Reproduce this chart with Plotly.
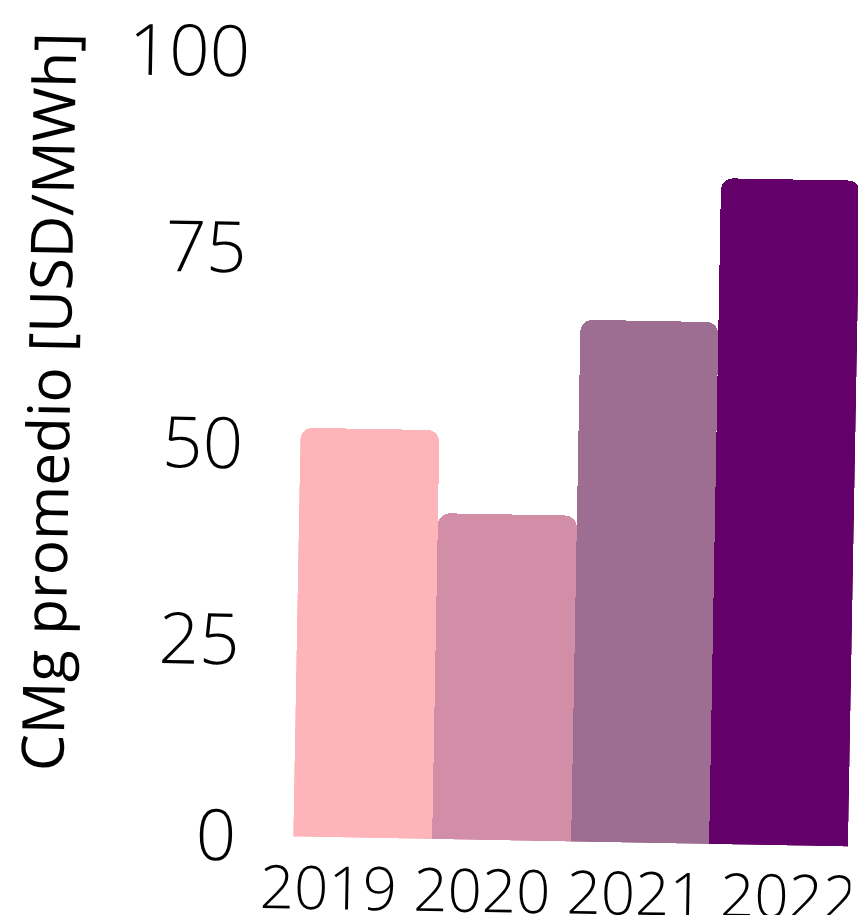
import plotly.graph_objects as go

# Data
years = ["2019", "2020", "2021", "2022"]
cmg_promedio = [52.2, 41.6, 66.6, 85.0]
bar_colors = ["#FDB5BA", "#D28EA7", "#9D6E91", "#630069"]
y_tick_values = [0, 25, 50, 75, 100]
y_title = "CMg promedio [USD/MWh]"

W, H = 858, 915
ML, MR, MT, MB = 300, 3, 55, 76

fig = go.Figure()
fig.add_trace(go.Bar(
    x=years, y=cmg_promedio,
    marker=dict(color=bar_colors, line=dict(width=0)),
    hoverinfo="skip", showlegend=False,
))
# invisible twin carrying the year labels on a second (overlaid) category axis
fig.add_trace(go.Bar(
    x=years, y=cmg_promedio, xaxis="x2",
    marker=dict(color="rgba(0,0,0,0)", line=dict(width=0)),
    hoverinfo="skip", showlegend=False,
))

tick_font = dict(family="Open Sans", size=71, color="#000000", weight=300)

fig.update_layout(
    width=W, height=H,
    margin=dict(l=ML, r=MR, t=MT, b=MB, autoexpand=False),
    paper_bgcolor="white", plot_bgcolor="white",
    bargap=0, barcornerradius=12,
    xaxis=dict(type="category", showticklabels=False, showgrid=False,
               zeroline=False, showline=False, ticks=""),
    xaxis2=dict(type="category", anchor="y", overlaying="x", side="bottom",
                range=[-0.2357, 3.382], showgrid=False, zeroline=False,
                showline=False, ticks="", tickfont=dict(tick_font, size=60),
                ticklabelstandoff=11),
    yaxis=dict(range=[0, 100], tickvals=y_tick_values,
               ticktext=[str(v) for v in y_tick_values],
               showgrid=False, zeroline=False, showline=False, ticks="",
               tickfont=tick_font, ticklabelstandoff=56),
    annotations=[dict(
        text=y_title, textangle=-90, showarrow=False,
        xref="paper", yref="paper", x=(46 - ML) / (W - ML - MR),
        y=(H - MB - 409) / (H - MT - MB),
        xanchor="center", yanchor="middle",
        font=dict(family="Open Sans", size=58.5, color="#000000"),
    )],
)

post = """
var gd = document.getElementById('{plot_id}');
document.documentElement.style.overflow = 'hidden';
document.body.style.margin = '0';
document.body.style.overflow = 'hidden';
gd.style.transformOrigin = '50% 50%';
gd.style.transform = 'rotate(1.03deg)';
"""

fig.write_html("out.html", post_script=post)
